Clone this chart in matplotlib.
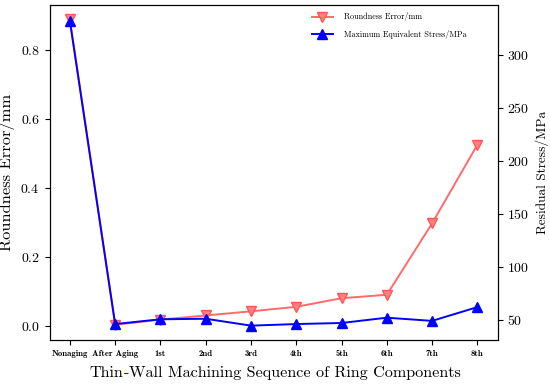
import matplotlib
matplotlib.use("Agg")
import matplotlib.pyplot as plt
from matplotlib.offsetbox import TextArea, HPacker, AnchoredOffsetbox

plt.rcParams['font.family'] = 'serif'
plt.rcParams['font.serif'] = ['cmr10', 'DejaVu Serif']
plt.rcParams['mathtext.fontset'] = 'cm'
plt.rcParams['axes.formatter.use_mathtext'] = True
plt.rcParams['axes.unicode_minus'] = False

categories = ["Nonaging", "After Aging", "1st", "2nd", "3rd", "4th", "5th", "6th", "7th", "8th"]
roundness = [0.888, 0.003, 0.018, 0.030, 0.042, 0.055, 0.080, 0.090, 0.297, 0.525]
stress = [332, 46, 50.5, 51, 44.5, 46, 47, 52, 49, 62]

fig, ax = plt.subplots(figsize=(5.5, 3.85), dpi=100)
fig.subplots_adjust(left=0.09, right=0.905, top=0.987, bottom=0.117)
x = list(range(len(categories)))
l1, = ax.plot(x, roundness, color='#ff6b6b', marker='v', markersize=7,
              markerfacecolor='#ff8080', markeredgecolor='#ff5555', lw=1.4,
              label='Roundness Error/mm')
ax2 = ax.twinx()
l2, = ax2.plot(x, stress, color='#0000ff', marker='^', markersize=7, lw=1.4,
               label='Maximum Equivalent Stress/MPa')
ax.set_ylim(-0.041, 0.93)
ax2.set_ylim(31, 347)
ax.set_xticks(x)
ax.set_xticklabels(categories, fontsize=6.3, fontname='cmb10')
ax.tick_params(axis='x', pad=4)
ax.set_yticks([0.0, 0.2, 0.4, 0.6, 0.8])
ax.set_yticklabels([r'$0.0$', r'$0.2$', r'$0.4$', r'$0.6$', r'$0.8$'], fontsize=10)
ax2.set_yticks([50, 100, 150, 200, 250, 300])
ax2.tick_params(labelsize=10)
ax.set_ylabel('Roundness Error/mm', fontsize=11.8)
ax2.set_ylabel('Residual Stress/MPa', fontsize=9.6)

# x label with blue hyphen
fs = 11.6
parts = [TextArea("Thin", textprops=dict(fontsize=fs, family='serif')),
         TextArea("-", textprops=dict(fontsize=fs, family='serif', color='#0000ff')),
         TextArea("Wall Machining Sequence of Ring Components", textprops=dict(fontsize=fs, family='serif'))]
box = HPacker(children=parts, align='baseline', pad=0, sep=0)
anch = AnchoredOffsetbox(loc='center', child=box, frameon=False, pad=0,
                         bbox_to_anchor=(0.5, 0.032), bbox_transform=fig.transFigure, borderpad=0)
fig.add_artist(anch)

ax.legend(handles=[l1, l2], loc='upper right', frameon=False, fontsize=5.9,
          bbox_to_anchor=(0.948, 1.0), handlelength=2.6, handletextpad=1.4,
          labelspacing=1.0)
fig.savefig('out.png', dpi=100)
